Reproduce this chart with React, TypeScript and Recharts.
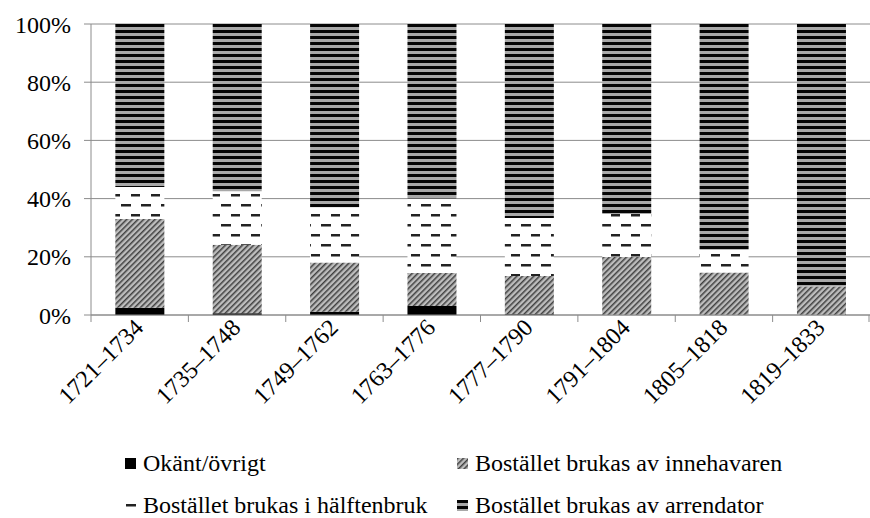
import React from "react";
import { BarChart, Bar, XAxis, YAxis, CartesianGrid, Legend } from "recharts";

const periods = ["1721–1734", "1735–1748", "1749–1762", "1763–1776", "1777–1790", "1791–1804", "1805–1818", "1819–1833"];
const okant = [2.5, 0.6, 1.1, 3.1, 0.3, 0, 0, 0];
const innehavaren = [30.5, 23.5, 16.9, 11.3, 13.1, 19.9, 14.6, 9.8];
const halftenbruk = [11, 18.4, 19, 25.6, 19.9, 14.8, 7.8, 0];
const arrendator = [56, 57.5, 63, 60, 66.7, 65.3, 77.6, 90.2];
const yTicks = [0, 20, 40, 60, 80, 100];

const seriesNames = [
  "Okänt/övrigt",
  "Bostället brukas av innehavaren",
  "Bostället brukas i hälftenbruk",
  "Bostället brukas av arrendator",
];

const data = periods.map((p, i) => ({
  period: p,
  okant: okant[i],
  innehavaren: innehavaren[i],
  halftenbruk: halftenbruk[i],
  arrendator: arrendator[i],
}));

const W = 870;
const H = 518;
const LEFT = 91;
const GRAY = "#8c8c8c";
const FONT = "Liberation Serif, DejaVu Serif, serif";
const FS = 24;
const BAND = (W - LEFT) / periods.length;

const XTick = (props: any) => {
  const { x, y, payload, index } = props;
  const ax = x + 5;
  const ay = y + 14;
  const isLast = index === periods.length - 1;
  return (
    <g>
      <line x1={x - BAND / 2} y1={y} x2={x - BAND / 2} y2={y + 7} stroke={GRAY} strokeWidth={1} />
      {isLast && <line x1={x + BAND / 2 - 1} y1={y} x2={x + BAND / 2 - 1} y2={y + 7} stroke={GRAY} strokeWidth={1} />}
      <text
        x={ax}
        y={ay}
        transform={`rotate(-45, ${ax}, ${ay})`}
        textAnchor="end"
        style={{ fontFamily: FONT, fontSize: FS }}
        fill="#000"
      >
        {payload.value}
      </text>
    </g>
  );
};

const LegendContent = (props: any) => {
  const payload = props.payload || [];
  const ordered = seriesNames
    .map((n) => payload.find((e: any) => e.value === n))
    .filter(Boolean);
  return (
    <div style={{ position: "relative", width: W, height: 85 }}>
      {ordered.map((entry: any, i: number) => {
        const col = i % 2;
        const row = Math.floor(i / 2);
        return (
          <div
            key={i}
            style={{
              position: "absolute",
              left: col === 0 ? 125 : 457,
              top: row === 0 ? 15 : 57,
              height: 30,
              display: "flex",
              alignItems: "center",
              fontFamily: FONT,
              fontSize: FS,
              color: "#000",
              whiteSpace: "nowrap",
            }}
          >
            <svg width={11} height={11} style={{ marginRight: 7 }}>
              <rect x={0} y={0} width={11} height={11} fill={entry.color} />
            </svg>
            <span>{entry.value}</span>
          </div>
        );
      })}
    </div>
  );
};

export default function App() {
  return (
    <div style={{ position: "absolute", left: 0, top: 0, width: W, height: H, background: "#fff", fontFamily: FONT }}>
      <svg width={0} height={0} style={{ position: "absolute" }}>
        <defs>
          <pattern id="hatch" patternUnits="userSpaceOnUse" width={4} height={4} patternTransform="rotate(45)">
            <rect x={0} y={0} width={4} height={4} fill="#bdbdbd" />
            <rect x={0} y={0} width={1.5} height={4} fill="#404040" />
          </pattern>
          <pattern id="dashes" patternUnits="userSpaceOnUse" width={20} height={20}>
            <rect x={0} y={0} width={20} height={20} fill="#fff" />
            <rect x={1} y={4} width={10} height={2.5} fill="#222" />
            <rect x={11} y={14} width={10} height={2.5} fill="#222" />
          </pattern>
          <pattern id="stripes" patternUnits="userSpaceOnUse" width={6} height={6}>
            <rect x={0} y={0} width={6} height={6} fill="#a8a8a8" />
            <rect x={0} y={0} width={6} height={3} fill="#050505" />
          </pattern>
        </defs>
      </svg>
      <BarChart
        width={W}
        height={H}
        data={data}
        margin={{ top: 24, right: 0, left: 0, bottom: 0 }}
        barCategoryGap="25%"
        style={{ fontFamily: FONT }}
      >
        <CartesianGrid horizontal={true} vertical={false} stroke={GRAY} strokeWidth={1} />
        <XAxis
          dataKey="period"
          interval={0}
          axisLine={{ stroke: GRAY }}
          tickLine={false}
          tickSize={0}
          tickMargin={0}
          height={118}
          tick={<XTick />}
        />
        <YAxis
          width={LEFT}
          domain={[0, 100]}
          ticks={yTicks}
          interval={0}
          tickFormatter={(v: number) => `${v}%`}
          axisLine={{ stroke: GRAY }}
          tickLine={{ stroke: GRAY }}
          tickSize={7}
          tickMargin={13}
          tick={{ style: { fontFamily: FONT }, fontSize: FS, fill: "#000" }}
        />
        <Legend verticalAlign="bottom" height={85} content={<LegendContent />} wrapperStyle={{ left: 0, width: W }} />
        <Bar dataKey="okant" name={seriesNames[0]} stackId="a" fill="#000" isAnimationActive={false} />
        <Bar dataKey="innehavaren" name={seriesNames[1]} stackId="a" fill="url(#hatch)" isAnimationActive={false} />
        <Bar dataKey="halftenbruk" name={seriesNames[2]} stackId="a" fill="url(#dashes)" isAnimationActive={false} />
        <Bar dataKey="arrendator" name={seriesNames[3]} stackId="a" fill="url(#stripes)" isAnimationActive={false} />
      </BarChart>
    </div>
  );
}
